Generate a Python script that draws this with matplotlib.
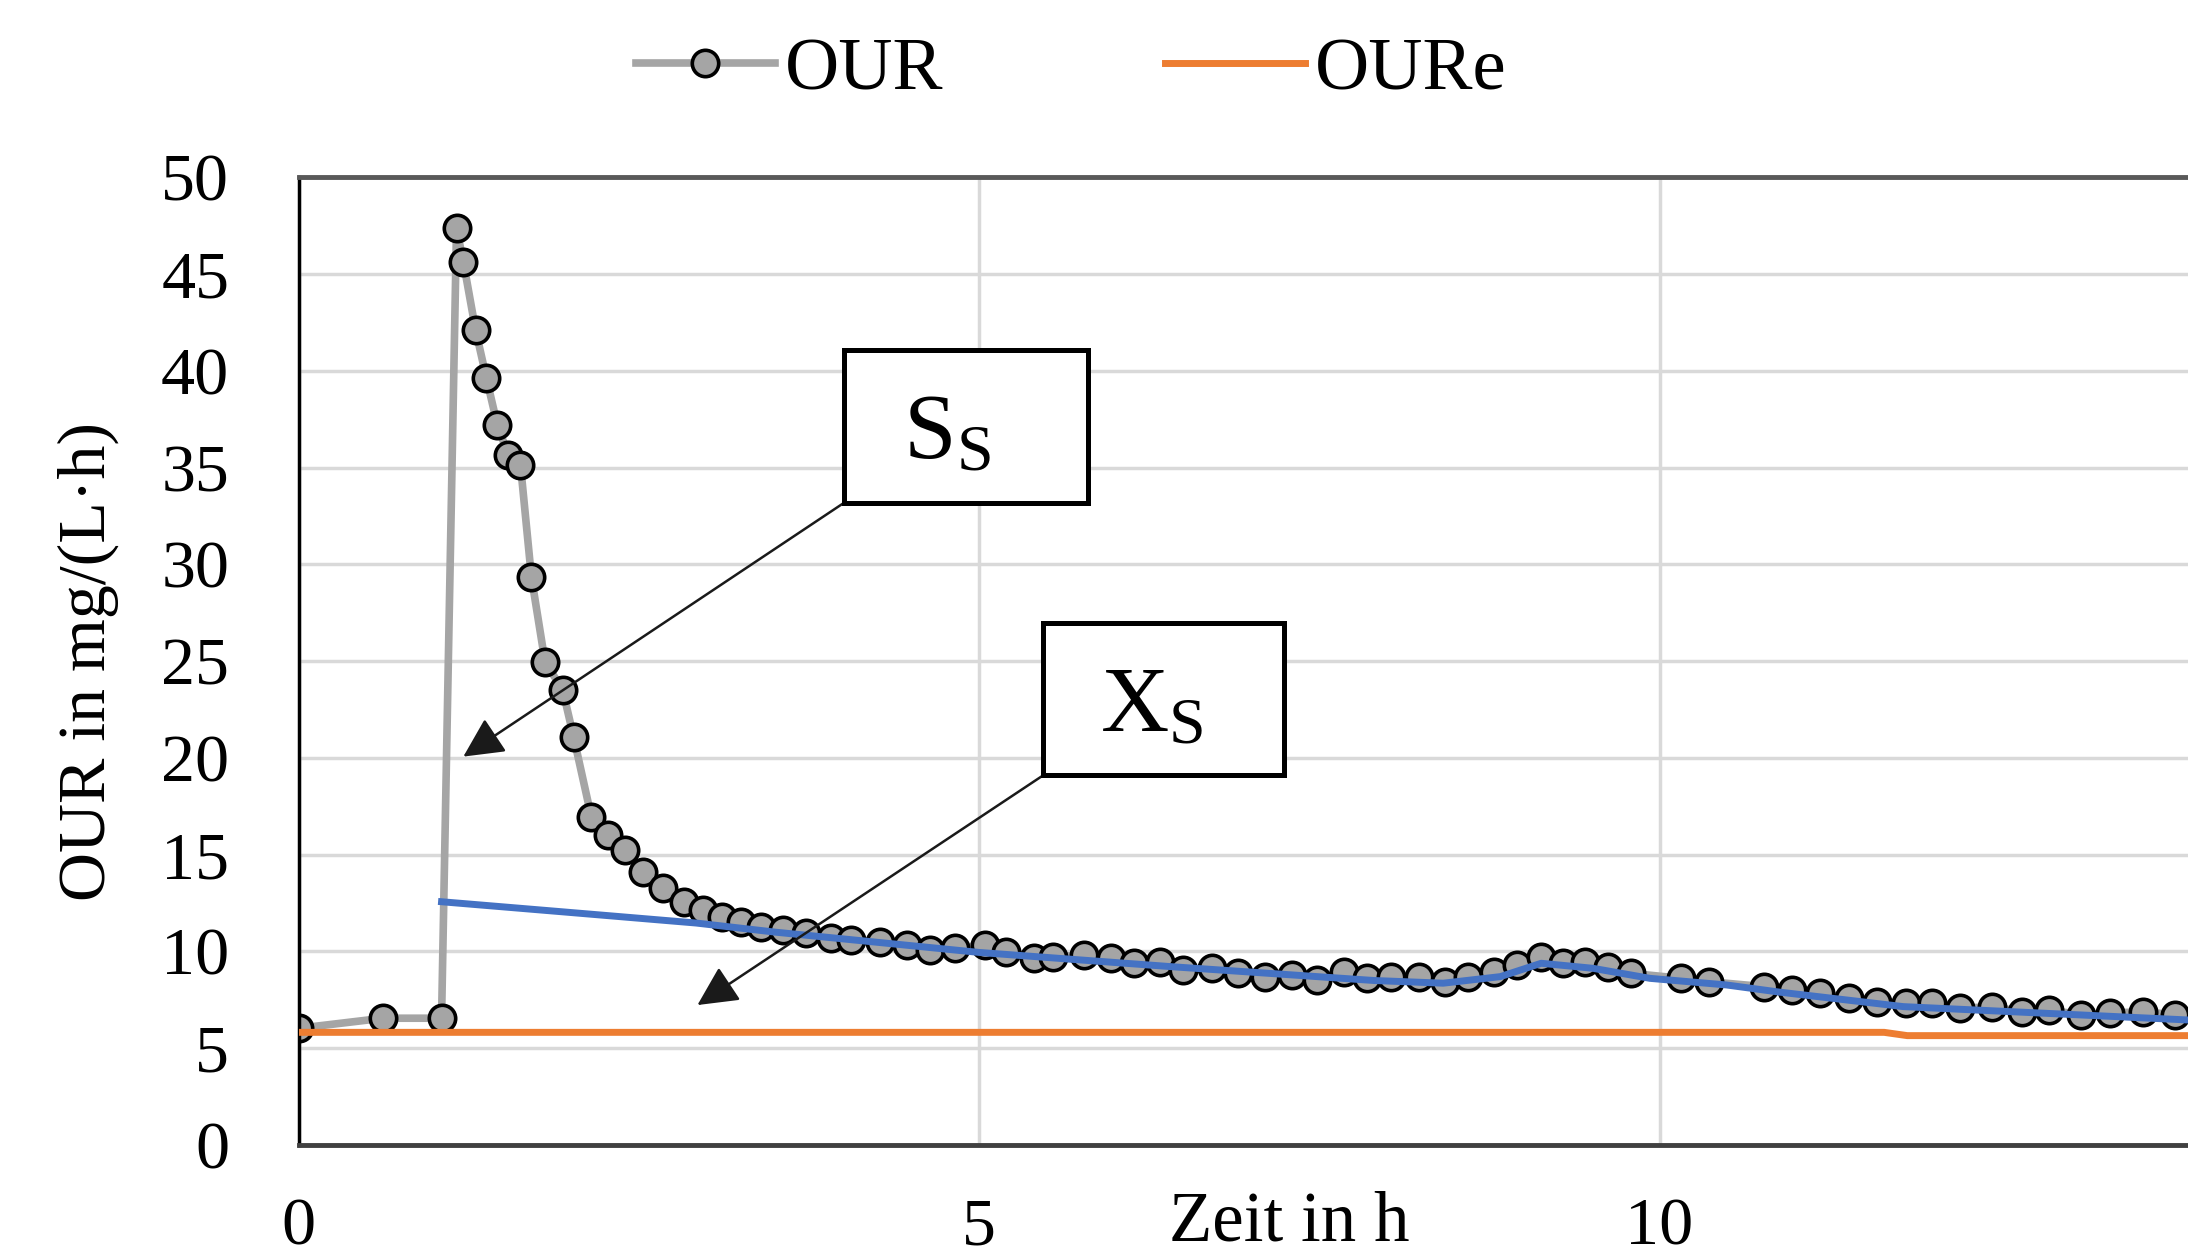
from __future__ import annotations

import matplotlib

matplotlib.use("Agg")
import matplotlib.pyplot as plt
from matplotlib.patches import Rectangle
from matplotlib.transforms import blended_transform_factory


# OUR measurements (time in h, OUR in mg/(L*h))
OUR_T = [
    0.0, 0.62, 1.05, 1.16, 1.21, 1.30, 1.38, 1.46, 1.54, 1.63, 1.71,
    1.81, 1.94, 2.02, 2.15, 2.27, 2.40, 2.53, 2.68,
    2.83, 2.97, 3.11, 3.25, 3.40, 3.56, 3.73, 3.91, 4.06, 4.27, 4.47, 4.64, 4.82,
    5.04, 5.20, 5.40, 5.54, 5.77, 5.97, 6.14, 6.33, 6.50, 6.71, 6.90, 7.10, 7.30, 7.48, 7.68, 7.85,
    8.03, 8.23, 8.42, 8.59, 8.78, 8.95, 9.13, 9.29, 9.45, 9.62, 9.79,
    10.16, 10.36,
    10.77, 10.97, 11.18, 11.39, 11.60, 11.81, 12.00, 12.21, 12.44, 12.66, 12.86, 13.10, 13.31, 13.55, 13.79,
]
OUR_Y = [
    6.03, 6.55, 6.55, 47.37, 45.65, 42.12, 39.62, 37.21, 35.66, 35.14, 29.37,
    24.98, 23.51, 21.10, 16.97, 16.02, 15.25, 14.12, 13.30,
    12.57, 12.14, 11.77, 11.54, 11.28, 11.11, 10.94, 10.68, 10.59, 10.50, 10.34, 10.08, 10.17,
    10.34, 9.99, 9.65, 9.73, 9.82, 9.65, 9.39, 9.47, 9.04, 9.13, 8.87, 8.70, 8.79, 8.53, 8.96, 8.65,
    8.70, 8.70, 8.44, 8.70, 8.96, 9.30, 9.73, 9.39, 9.47, 9.21, 8.87,
    8.61, 8.44,
    8.18, 8.01, 7.84, 7.58, 7.41, 7.32, 7.32, 7.06, 7.15, 6.89, 6.98, 6.72, 6.81, 6.89, 6.72,
]

# smoothed OUR (blue line, not in legend)
FIT_T = [1.05, 1.92, 2.92, 3.50, 5.00, 6.42, 7.90, 8.41, 8.83, 9.13, 9.51, 9.93, 10.49, 10.88, 11.79, 12.82, 13.88, 15.0]
FIT_Y = [12.57, 12.06, 11.47, 11.00, 9.95, 9.21, 8.50, 8.36, 8.70, 9.39, 9.13, 8.61, 8.27, 7.90, 7.15, 6.81, 6.46, 6.20]

# endogenous OUR
OURE_T = [0.0, 11.65, 11.82, 15.0]
OURE_Y = [5.82, 5.82, 5.65, 5.65]

Y_TICKS = [0, 5, 10, 15, 20, 25, 30, 35, 40, 45, 50]
X_TICKS = [0, 5, 10, 15]

GRAY = "#A5A5A5"
ORANGE = "#ED7D31"
BLUE = "#4472C4"
FONT = "Liberation Serif"


def add_label_box(ax, box, text, text_x, tip):
    x0, y0, x1, y1 = box
    ax.add_patch(Rectangle((x0, y0), x1 - x0, y1 - y0, facecolor="white",
                           edgecolor="black", lw=3.6, zorder=6))
    ax.text(text_x, (y0 + y1) / 2 - 0.5, text, ha="center", va="center",
            fontsize=68, zorder=7)
    ax.annotate("", xy=tip, xytext=(x0, y0),
                arrowprops=dict(arrowstyle="-|>", color="#1a1a1a", lw=1.8,
                                mutation_scale=62, shrinkA=0, shrinkB=0),
                zorder=5)


def main() -> None:
    plt.rcParams["font.family"] = [FONT, "DejaVu Sans"]
    plt.rcParams["mathtext.fontset"] = "custom"
    plt.rcParams["mathtext.rm"] = FONT
    plt.rcParams["mathtext.it"] = FONT

    fig = plt.figure(figsize=(21.88, 12.49), dpi=100)
    ax = fig.add_axes([0.1365, 0.0833, 0.933, 0.7746])

    our_line, = ax.plot(OUR_T, OUR_Y, color=GRAY, lw=5.5, marker="o", markersize=19,
                        markerfacecolor=GRAY, markeredgecolor="black", markeredgewidth=2.6,
                        zorder=2, label="OUR")
    ax.plot(FIT_T, FIT_Y, color=BLUE, lw=5, zorder=3)
    oure_line, = ax.plot(OURE_T, OURE_Y, color=ORANGE, lw=5, zorder=4, label="OURe")

    ax.set_xlim(0, 15)
    ax.set_ylim(0, 50)
    ax.set_xticks(X_TICKS)
    ax.set_yticks(Y_TICKS)
    ax.tick_params(axis="both", length=0, labelsize=49)
    ax.tick_params(axis="y", pad=50)
    ax.tick_params(axis="x", pad=38)
    ax.grid(True, color="#D9D9D9", lw=2.5, zorder=0)
    ax.set_axisbelow(True)

    ax.spines["left"].set_color("black")
    ax.spines["left"].set_linewidth(2.5)
    ax.spines["bottom"].set_color("#404040")
    ax.spines["bottom"].set_linewidth(3.5)
    ax.spines["top"].set_color("#595959")
    ax.spines["top"].set_linewidth(3.5)

    ax.set_ylabel("OUR in mg/(L\u00b7h)", fontsize=49)
    ax.yaxis.set_label_coords(-0.088, 0.5)
    trans = blended_transform_factory(ax.transData, ax.transAxes)
    ax.text(7.28, -0.081, "Zeit in h", transform=trans, ha="center", va="center", fontsize=51)

    add_label_box(ax, (4.01, 33.2, 5.80, 41.1), r"$\mathrm{S_S}$", 4.76, (1.21, 20.07))
    add_label_box(ax, (5.47, 19.1, 7.24, 27.0), r"$\mathrm{X_S}$", 6.27, (2.93, 7.23))

    fig.legend(handles=[our_line, oure_line], loc="center", bbox_to_anchor=(0.4895, 0.943),
               ncol=2, frameon=False, fontsize=54, handlelength=1.86, handletextpad=0.13,
               columnspacing=2.96)

    fig.savefig("out.png", dpi=100)
    plt.close(fig)


if __name__ == "__main__":
    main()
